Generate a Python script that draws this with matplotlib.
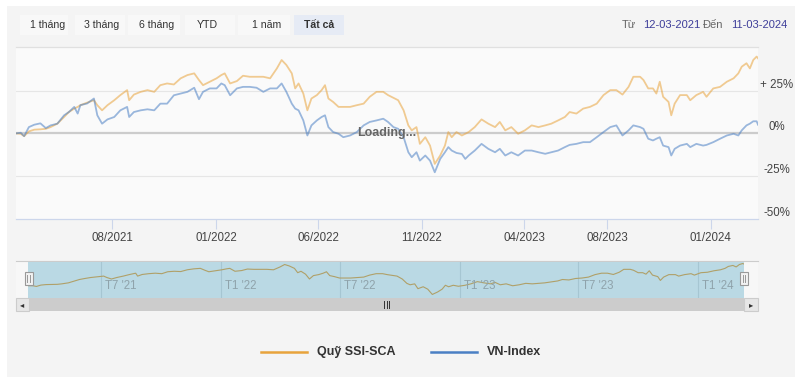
import matplotlib
matplotlib.use("Agg")
import matplotlib.pyplot as plt
import matplotlib.dates as mdates
import matplotlib.transforms as mtransforms
from matplotlib.patches import Rectangle
from matplotlib.lines import Line2D
import numpy as np
import pandas as pd

plt.rcParams['font.family'] = ['Liberation Sans', 'DejaVu Sans']

# ---- data (% change since 12-03-2021) ----
dates = [
    "2021-03-12", "2021-03-19", "2021-03-24", "2021-03-31", "2021-04-08", "2021-04-17",
    "2021-04-25", "2021-05-02", "2021-05-12", "2021-05-22", "2021-05-29", "2021-06-06",
    "2021-06-11", "2021-06-15", "2021-06-25", "2021-07-05", "2021-07-10", "2021-07-17",
    "2021-07-25", "2021-08-04", "2021-08-13", "2021-08-23", "2021-08-26", "2021-09-02",
    "2021-09-12", "2021-09-22", "2021-10-02", "2021-10-11", "2021-10-21", "2021-10-31",
    "2021-11-10", "2021-11-20", "2021-11-30", "2021-12-07", "2021-12-13", "2021-12-23",
    "2022-01-02", "2022-01-09", "2022-01-14", "2022-01-22", "2022-02-01", "2022-02-10",
    "2022-02-20", "2022-03-02", "2022-03-12", "2022-03-22", "2022-04-01", "2022-04-08",
    "2022-04-15", "2022-04-23", "2022-04-28", "2022-05-03", "2022-05-10", "2022-05-16",
    "2022-05-22", "2022-05-30", "2022-06-06", "2022-06-11", "2022-06-16", "2022-06-23",
    "2022-07-01", "2022-07-08", "2022-07-18", "2022-07-28", "2022-08-07", "2022-08-16",
    "2022-08-26", "2022-09-05", "2022-09-12", "2022-09-20", "2022-09-27", "2022-10-05",
    "2022-10-12", "2022-10-17", "2022-10-24", "2022-10-29", "2022-11-06", "2022-11-13",
    "2022-11-20", "2022-11-28", "2022-12-05", "2022-12-10", "2022-12-15", "2022-12-22",
    "2022-12-30", "2023-01-04", "2023-01-09", "2023-01-18", "2023-01-28", "2023-02-07",
    "2023-02-17", "2023-02-24", "2023-03-04", "2023-03-13", "2023-03-23", "2023-04-02",
    "2023-04-12", "2023-04-22", "2023-05-02", "2023-05-11", "2023-05-21", "2023-05-31",
    "2023-06-07", "2023-06-17", "2023-06-27", "2023-07-07", "2023-07-17", "2023-07-27",
    "2023-08-06", "2023-08-15", "2023-08-24", "2023-09-02", "2023-09-09", "2023-09-19",
    "2023-09-24", "2023-10-01", "2023-10-08", "2023-10-13", "2023-10-18", "2023-10-23",
    "2023-10-31", "2023-11-04", "2023-11-09", "2023-11-17", "2023-11-27", "2023-12-02",
    "2023-12-11", "2023-12-21", "2023-12-26", "2024-01-05", "2024-01-15", "2024-01-25",
    "2024-02-04", "2024-02-11", "2024-02-16", "2024-02-23", "2024-02-28", "2024-03-04",
    "2024-03-09", "2024-03-11",
]
ssi_sca = [
    0.0, -0.2, -1.6, 1.2, 2.2, 2.4, 2.7, 3.7, 5.7, 9.6, 12.5, 14.5,
    15.5, 16.5, 18.0, 19.4, 16.5, 13.5, 16.5, 19.4, 22.4, 25.3, 19.4, 22.7,
    24.3, 25.3, 24.3, 28.2, 29.2, 28.6, 32.2, 34.1, 35.1, 31.2, 28.2, 30.2,
    32.2, 34.1, 35.1, 29.2, 30.6, 33.7, 33.1, 33.1, 33.1, 32.2, 38.0, 42.9,
    40.0, 35.1, 26.3, 29.2, 23.3, 13.5, 20.4, 22.4, 25.3, 28.2, 20.4, 18.4,
    15.5, 15.5, 15.5, 16.5, 17.4, 21.4, 24.3, 24.3, 22.4, 20.8, 19.4, 13.5,
    4.7, 1.8, 3.7, -6.1, -2.2, -7.1, -17.8, -12.9, -7.1, 0.8, -2.2, 0.8,
    -1.2, -0.2, 0.8, 3.7, 8.2, 5.7, 3.7, 6.7, 1.8, 3.7, -0.2, 1.8,
    4.7, 3.7, 4.7, 5.7, 7.6, 9.6, 12.5, 11.6, 14.5, 15.5, 17.4, 22.4,
    25.3, 25.3, 22.7, 27.2, 33.1, 33.1, 31.2, 26.3, 26.3, 23.3, 30.2, 21.4,
    18.4, 10.6, 17.4, 22.4, 22.4, 19.4, 22.4, 24.3, 21.4, 26.3, 27.2, 30.2,
    32.2, 35.1, 39.0, 41.0, 38.0, 42.9, 44.9, 43.9,
]
vn_index = [
    0.0, 0.4, -1.6, 3.7, 5.1, 5.9, 3.1, 4.7, 5.7, 10.6, 12.5, 15.5,
    11.6, 16.5, 17.5, 20.4, 10.6, 5.7, 8.2, 9.6, 13.5, 15.5, 9.6, 12.5,
    13.5, 14.1, 13.5, 17.4, 17.4, 22.3, 23.3, 24.3, 26.7, 20.0, 24.3, 26.3,
    26.3, 29.2, 28.2, 22.3, 26.3, 27.2, 27.2, 26.7, 24.3, 26.3, 26.3, 29.2,
    24.3, 17.4, 14.5, 13.5, 7.6, -1.2, 4.7, 7.6, 9.6, 10.6, 3.7, 0.8,
    -0.2, -2.2, -1.2, 0.8, 4.7, 6.7, 7.6, 8.6, 6.7, 3.7, 2.7, -2.2,
    -11.0, -13.9, -11.0, -15.9, -12.9, -15.9, -22.7, -14.9, -11.0, -8.0, -10.0, -11.4,
    -12.0, -14.9, -12.9, -10.0, -6.1, -9.0, -11.0, -9.0, -12.9, -11.0, -12.9, -10.0,
    -10.0, -11.0, -11.9, -11.0, -10.0, -8.0, -6.7, -6.1, -5.1, -5.1, -2.2, 0.8,
    3.7, 4.7, -1.2, 1.8, 4.7, 3.7, 2.7, -3.1, -4.1, -3.1, -2.2, -7.1,
    -8.0, -12.9, -9.0, -7.1, -6.1, -8.0, -6.1, -7.1, -6.7, -5.1, -3.1, -1.2,
    -0.2, -1.2, 1.8, 4.7, 5.7, 7.1, 7.1, 5.1,
]
x_ticks = ["2021-08-01", "2022-01-01", "2022-06-01", "2022-11-01",
           "2023-04-01", "2023-08-01", "2024-01-01"]
x_labels = ["08/2021", "01/2022", "06/2022", "11/2022", "04/2023", "08/2023", "01/2024"]
y_ticks = [25, 0, -25, -50]
y_labels = ["+ 25%", "0%", "-25%", "-50%"]
nav_ticks = ["2021-07-01", "2022-01-01", "2022-07-01", "2023-01-01", "2023-07-01", "2024-01-01"]
nav_labels = ["T7 '21", "T1 '22", "T7 '22", "T1 '23", "T7 '23", "T1 '24"]
buttons = ["1 tháng", "3 tháng", "6 tháng", "YTD", "1 năm", "Tất cả"]
series_names = ["Quỹ SSI-SCA", "VN-Index"]

dt = pd.to_datetime(dates)
start, end = pd.Timestamp("2021-03-12"), pd.Timestamp("2024-03-11")

W, H = 800, 379
ORANGE = "#e8a33c"
BLUE = "#4a7fc4"


def rect(x0, y0, x1, y1):
    # pixel box (top-left origin) -> figure fraction
    return [x0 / W, 1 - y1 / H, (x1 - x0) / W, (y1 - y0) / H]


def fx(x):
    return x / W


def fy(y):
    return 1 - y / H


fig = plt.figure(figsize=(8, 3.79), dpi=100, facecolor="white")

# grey panel (behind everything)
fig.patches.append(Rectangle((fx(7), fy(377)), fx(795) - fx(7), fy(6) - fy(377),
                             transform=fig.transFigure, facecolor="#f4f4f4",
                             edgecolor="none", zorder=-5))

# ---- range selector buttons ----
btn_x = [(20, 68), (75, 125), (128, 180), (185, 235), (238, 290), (294, 344)]
btn_text_x = [47.5, 101.5, 156.5, 207, 266.5, 319]
for (bx0, bx1), tx, label in zip(btn_x, btn_text_x, buttons):
    sel = label == "Tất cả"
    fig.patches.append(Rectangle((fx(bx0), fy(35)), fx(bx1) - fx(bx0), fy(15) - fy(35),
                                 transform=fig.transFigure,
                                 facecolor="#e6ebf5" if sel else "#f8f8f8",
                                 edgecolor="none", zorder=-4))
    fig.text(fx(tx), fy(25), label, ha="center", va="center",
             fontsize=7.6, color="#333333", fontweight="bold" if sel else "normal")

fig.text(fx(622), fy(24.5), "Từ", ha="left", va="center", fontsize=8, color="#666666")
fig.text(fx(643), fy(24.5), "12-03-2021", ha="left", va="center", fontsize=8, color="#3e3e9a")
fig.text(fx(703), fy(24.5), "Đến", ha="left", va="center", fontsize=8, color="#666666")
fig.text(fx(731), fy(24.5), "11-03-2024", ha="left", va="center", fontsize=8, color="#3e3e9a")

# ---- main chart ----
ax = fig.add_axes(rect(16, 47, 758, 219))
ax.set_facecolor("#fafafa")
ax.plot(dt, ssi_sca, color=ORANGE, alpha=0.55, lw=1.3, zorder=3)
ax.plot(dt, vn_index, color=BLUE, alpha=0.55, lw=1.3, zorder=3)
ax.set_xlim(start, end)
ax.set_ylim(-50, 50.5)
for v in (25, -25):
    ax.axhline(v, color="#e6e6e6", lw=0.8, zorder=1)
ax.axhline(0, color="#cccccc", lw=1.6, zorder=2)
for s in ("left", "right"):
    ax.spines[s].set_visible(False)
ax.spines["top"].set_color("#e0e0e0")
ax.spines["top"].set_linewidth(0.9)
ax.spines["bottom"].set_color("#ccd6eb")
ax.spines["bottom"].set_linewidth(0.9)
ax.set_xticks(pd.to_datetime(x_ticks))
ax.set_xticklabels(x_labels)
ax.tick_params(axis="x", length=7, width=0.8, color="#ccd6eb", labelsize=8.3,
               labelcolor="#444444", pad=2)
ax.set_yticks([])
lab_tr = mtransforms.blended_transform_factory(ax.transAxes, ax.transData) + \
    mtransforms.ScaledTranslation(0, 6 / 100, fig.dpi_scale_trans)
for v, lbl in zip(y_ticks, y_labels):
    ax.text(1.0256, v, lbl, transform=lab_tr, ha="center", va="center",
            fontsize=8.3, color="#444444", clip_on=False)
ax.text(0.5, 0.5, "Loading...", transform=ax.transAxes, ha="center", va="center",
        fontsize=9, fontweight="bold", color="#666666", zorder=5)

# ---- navigator ----
nav_bg = fig.add_axes(rect(16, 261, 758, 298))
nav_bg.set_facecolor("#f7f7f7")
nav_bg.set_xticks([])
nav_bg.set_yticks([])
for s in ("left", "right", "bottom"):
    nav_bg.spines[s].set_visible(False)
nav_bg.spines["top"].set_color("#cccccc")

nav = fig.add_axes(rect(28.5, 261.5, 744, 298))
nav.set_facecolor("#bad9e4")
nav.plot(dt, ssi_sca, color="#b0a068", lw=0.8, zorder=3)
nav.set_xlim(start, end)
nav.set_ylim(-25, 49)
nav.set_xticks([])
nav.set_yticks([])
for s in nav.spines.values():
    s.set_visible(False)
for d, lbl in zip(pd.to_datetime(nav_ticks), nav_labels):
    nav.axvline(d, color="#a6c6d2", lw=0.8, zorder=1)
    nav.annotate(lbl, (mdates.date2num(d), 0), xycoords=("data", "axes fraction"),
                 xytext=(3, 4), textcoords="offset points", ha="left", va="bottom",
                 fontsize=8.3, color="#8fa3ab")

# handles
for hx in (28.5, 744):
    fig.patches.append(Rectangle((fx(hx - 4), fy(285)), fx(8), fy(272) - fy(285),
                                 transform=fig.transFigure, facecolor="#f2f2f2",
                                 edgecolor="#999999", lw=0.8, zorder=5))
    for dx in (-1.2, 1.2):
        fig.lines.append(Line2D([fx(hx + dx)] * 2, [fy(275), fy(282)],
                                transform=fig.transFigure, color="#999999",
                                lw=0.7, zorder=6))

# scrollbar
fig.patches.append(Rectangle((fx(29), fy(311)), fx(744) - fx(29), fy(298) - fy(311),
                             transform=fig.transFigure, facecolor="#cccccc",
                             edgecolor="none", zorder=2))
for bx0, bx1, arrow in ((16, 29, "\u25c2"), (744, 758, "\u25b8")):
    fig.patches.append(Rectangle((fx(bx0), fy(311)), fx(bx1) - fx(bx0), fy(298) - fy(311),
                                 transform=fig.transFigure, facecolor="#e6e6e6",
                                 edgecolor="#cccccc", lw=0.8, zorder=3))
    fig.text(fx((bx0 + bx1) / 2), fy(304.5), arrow, ha="center", va="center",
             fontsize=6, color="#333333", family="DejaVu Sans", zorder=4)
for dx in (-2.5, 0, 2.5):
    fig.lines.append(Line2D([fx(386.5 + dx)] * 2, [fy(301), fy(308)],
                            transform=fig.transFigure, color="#333333", lw=0.7, zorder=4))

# ---- legend ----
for (lx0, lx1), color, name in zip(((261, 307), (431, 477)), (ORANGE, BLUE), series_names):
    fig.lines.append(Line2D([fx(lx0), fx(lx1)], [fy(352), fy(352)],
                            transform=fig.transFigure, color=color, lw=1.8))
    fig.text(fx(lx1 + 10), fy(352), name, ha="left", va="center",
             fontsize=9, fontweight="bold", color="#333333")

fig.savefig("out.png", dpi=100, facecolor=fig.get_facecolor())
